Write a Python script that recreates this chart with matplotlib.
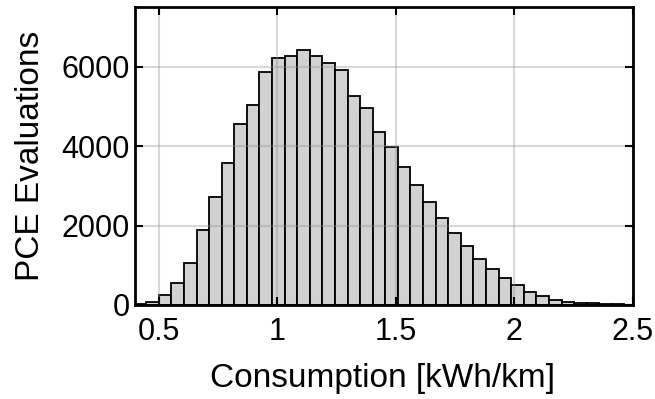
import numpy as np
import matplotlib
matplotlib.use("Agg")
import matplotlib.pyplot as plt

# Histogram of PCE-evaluated consumption (40 equal-width bins)
first_edge = 0.394
bin_width = 0.0531
counts = [20, 80, 240, 565, 1065, 1885, 2727, 3580, 4558, 5035,
          5871, 6205, 6265, 6415, 6272, 6097, 5913, 5252, 4951, 4349,
          3972, 3470, 3028, 2592, 2200, 1824, 1480, 1150, 895, 675,
          493, 315, 235, 125, 80, 58, 40, 30, 15, 8]
x_ticks = [0.5, 1, 1.5, 2, 2.5]
x_tick_labels = ["0.5", "1", "1.5", "2", "2.5"]
y_ticks = [0, 2000, 4000, 6000]

plt.rcParams["font.family"] = ["Liberation Sans", "DejaVu Sans"]

edges = first_edge + bin_width * np.arange(len(counts) + 1)

fig = plt.figure(figsize=(6.55, 3.99), dpi=100)
ax = fig.add_axes([0.2061, 0.2356, 0.7600, 0.7469])

ax.bar(edges[:-1], counts, width=bin_width, align="edge",
       color="#d2d2d2", edgecolor="black", linewidth=1.3)

ax.set_xlim(0.4, 2.5)
ax.set_ylim(0, 7500)
ax.set_xticks(x_ticks)
ax.set_xticklabels(x_tick_labels)
ax.set_yticks(y_ticks)

ax.set_axisbelow(False)
ax.grid(True, color="#909090", alpha=0.35, linewidth=1.5)

ax.tick_params(direction="in", length=6, width=1.5, top=True, right=True,
               labelsize=22, colors="black")
ax.tick_params(axis="x", pad=9)
ax.tick_params(axis="y", pad=4)
for side in ax.spines.values():
    side.set_linewidth(2)
    side.set_zorder(5)

ax.set_xlabel("Consumption [kWh/km]", fontsize=24)
ax.set_ylabel("PCE Evaluations", fontsize=24)
ax.xaxis.set_label_coords(0.497, -0.196)
ax.yaxis.set_label_coords(-0.178, 0.5)

fig.savefig("out.png", dpi=100)
